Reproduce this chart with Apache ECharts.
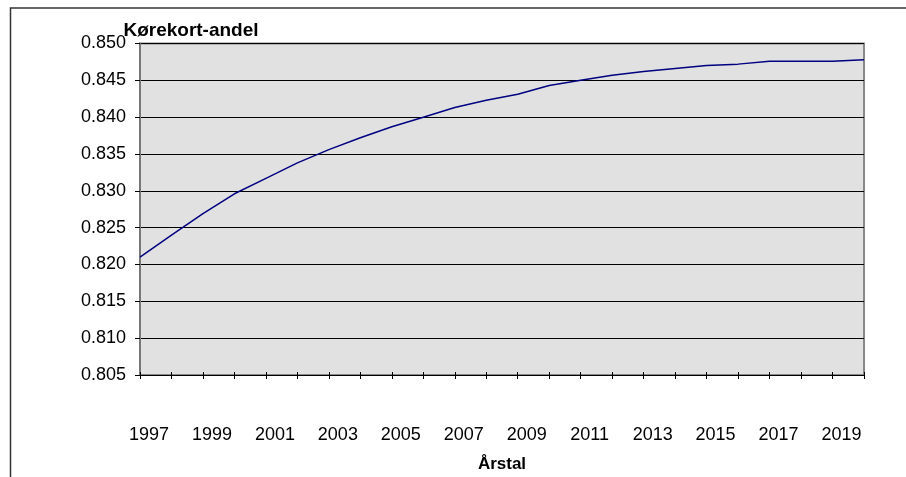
<!doctype html>
<html>
<head>
<meta charset="utf-8">
<title>Kørekort-andel</title>
<script src="https://cdn.jsdelivr.net/npm/echarts@6/dist/echarts.min.js"></script>
<style>
  html, body { margin: 0; padding: 0; background: #fff; }
  #chart { width: 906px; height: 477px; }
</style>
</head>
<body>
<div id="chart"></div>
<script>
// år og andel med kørekort
var years = ['1997','1998','1999','2000','2001','2002','2003','2004','2005','2006','2007','2008',
             '2009','2010','2011','2012','2013','2014','2015','2016','2017','2018','2019','2020'];
var andel = [0.8210, 0.8240, 0.8269, 0.8296, 0.8317, 0.8338, 0.8356, 0.8372, 0.8387, 0.8400, 0.8413, 0.8423,
             0.8431, 0.8443, 0.8450, 0.8457, 0.8462, 0.8466, 0.8470, 0.8472, 0.8476, 0.8476, 0.8476, 0.8478];
var yMin = 0.805, yMax = 0.850, yStep = 0.005;

var font = '"Liberation Sans", Arial, sans-serif';
var chart = echarts.init(document.getElementById('chart'));

var option = {
    animation: false,
    backgroundColor: '#fff',
    textStyle: { fontFamily: font },
    graphic: [{
        type: 'rect',
        shape: { x: 10.5, y: 8, width: 1000, height: 1000 },
        style: { fill: 'none', stroke: '#333', lineWidth: 1.5 },
        silent: true
    }],
    grid: {
        left: 140, right: 42, top: 43.5, bottom: 102,
        show: true,
        backgroundColor: '#e1e1e1',
        borderColor: '#888',
        borderWidth: 2,
        outerBoundsMode: 'none'
    },
    xAxis: [{
        type: 'category',
        data: years,
        boundaryGap: false,
        name: 'Årstal',
        nameLocation: 'middle',
        nameGap: 81,
        nameMoveOverlap: false,
        nameTextStyle: { fontFamily: font, fontSize: 17, fontWeight: 'bold', color: '#000' },
        axisLine: { lineStyle: { color: '#000', width: 1 } },
        axisTick: { interval: 0, length: 4, lineStyle: { color: '#000' } },
        axisLabel: {
            interval: 1,
            margin: 51,
            fontSize: 18,
            color: '#000',
            fontFamily: font,
            padding: [0, 0, 0, 18]
        },
        splitLine: { show: false }
    }, {
        // indvendige tick-streger (krydsende ticks som i Excel)
        type: 'category',
        data: years,
        boundaryGap: false,
        position: 'bottom',
        axisLine: { show: false },
        axisTick: { interval: 0, inside: true, length: 3, lineStyle: { color: '#000' } },
        axisLabel: { show: false },
        splitLine: { show: false }
    }],
    yAxis: {
        type: 'value',
        min: yMin,
        max: yMax,
        interval: yStep,
        name: 'Kørekort-andel',
        nameLocation: 'end',
        nameGap: 13,
        nameMoveOverlap: false,
        nameTextStyle: {
            fontFamily: font, fontSize: 19, fontWeight: 'bold', color: '#000',
            align: 'center', verticalAlign: 'middle', padding: [0, 0, 0, 102]
        },
        axisLine: { show: true, lineStyle: { color: '#777', width: 2 } },
        axisTick: { show: true, length: 5, lineStyle: { color: '#000' } },
        axisLabel: {
            margin: 14,
            fontSize: 18,
            color: '#000',
            fontFamily: font,
            formatter: function (v) { return v.toFixed(3); }
        },
        splitLine: { lineStyle: { color: '#000', width: 1 } }
    },
    series: [{
        type: 'line',
        data: andel,
        showSymbol: false,
        symbol: 'none',
        lineStyle: { color: '#000080', width: 1.5 },
        z: 5
    }]
};

chart.setOption(option);
</script>
</body>
</html>
